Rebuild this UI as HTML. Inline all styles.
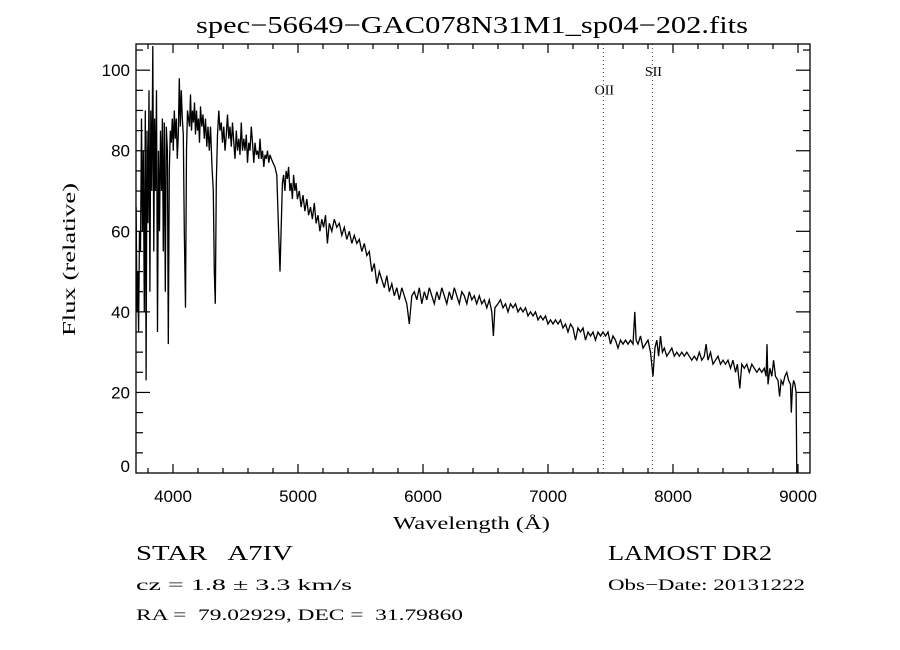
<!DOCTYPE html>
<html><head><meta charset="utf-8"><style>
html,body{margin:0;padding:0;background:#fff;}
svg{display:block;}
text{fill:#000;}
.ser{font-family:"Liberation Serif",serif;}
.san{font-family:"Liberation Sans",sans-serif;}
</style></head><body>
<svg id="chart" width="900" height="650" viewBox="0 0 900 650" xmlns="http://www.w3.org/2000/svg">
<rect width="900" height="650" fill="#fff"/>
<text class="ser" x="196" y="33" font-size="24" textLength="552" lengthAdjust="spacingAndGlyphs">spec−56649−GAC078N31M1_sp04−202.fits</text>
<g id="axes"></g>
<g id="lines"></g>
<polyline id="spec" fill="none" stroke="#000" stroke-width="1.3" stroke-linejoin="miter"/>
<rect x="136" y="44" width="674" height="429" fill="none" stroke="#000" stroke-width="1.3"/>
<text class="ser" x="393" y="529" font-size="18" textLength="157" lengthAdjust="spacingAndGlyphs">Wavelength (Å)</text>
<text class="ser" x="0" y="0" font-size="18" textLength="153" lengthAdjust="spacingAndGlyphs" transform="translate(75,336) rotate(-90)">Flux (relative)</text>
<text class="ser" x="136" y="560" font-size="21" textLength="157" lengthAdjust="spacingAndGlyphs" xml:space="preserve">STAR   A7IV</text>
<text class="ser" x="608" y="560" font-size="21" textLength="164" lengthAdjust="spacingAndGlyphs">LAMOST DR2</text>
<text class="ser" x="136" y="590" font-size="16" textLength="216" lengthAdjust="spacingAndGlyphs">cz = 1.8 ± 3.3 km/s</text>
<text class="ser" x="608" y="590" font-size="16" textLength="197" lengthAdjust="spacingAndGlyphs">Obs−Date: 20131222</text>
<text class="ser" x="136" y="620" font-size="16" textLength="327" lengthAdjust="spacingAndGlyphs" xml:space="preserve">RA =  79.02929, DEC =  31.79860</text>
</svg>
<script>
const wave = [3705,3712,3718,3725,3732,3740,3748,3755,3762,3770,3778,3785,3792,3800,3808,3815,3822,3830,3838,3846,3853,3860,3868,3876,3884,3892,3900,3908,3915,3922,3930,3938,3946,3955,3962,3970,3978,3986,3994,4002,4010,4018,4026,4034,4042,4050,4058,4066,4074,4082,4090,4100,4108,4116,4124,4132,4140,4148,4156,4164,4172,4180,4188,4196,4204,4212,4220,4230,4240,4250,4260,4270,4280,4290,4300,4312,4322,4330,4338,4346,4356,4366,4376,4386,4396,4406,4416,4426,4436,4446,4456,4466,4476,4486,4496,4506,4516,4526,4536,4546,4556,4566,4576,4586,4596,4606,4616,4626,4636,4646,4656,4666,4676,4686,4696,4706,4716,4726,4736,4746,4756,4766,4776,4786,4800,4815,4830,4845,4856,4866,4875,4885,4895,4905,4915,4925,4935,4945,4955,4965,4975,4985,4995,5010,5025,5040,5055,5070,5085,5100,5115,5130,5145,5160,5175,5190,5205,5220,5235,5250,5270,5290,5310,5330,5350,5370,5390,5410,5430,5450,5470,5490,5510,5530,5550,5570,5590,5610,5630,5650,5670,5690,5710,5730,5750,5770,5790,5810,5830,5850,5870,5890,5910,5930,5950,5970,5990,6010,6030,6050,6070,6090,6110,6130,6150,6170,6190,6210,6230,6250,6270,6290,6310,6330,6350,6370,6390,6410,6430,6450,6470,6490,6510,6530,6550,6563,6575,6600,6620,6640,6660,6680,6700,6720,6740,6760,6780,6800,6820,6840,6860,6880,6900,6920,6940,6960,6980,7000,7020,7040,7060,7080,7100,7120,7140,7160,7180,7200,7220,7240,7260,7280,7300,7320,7340,7360,7380,7400,7420,7440,7460,7480,7500,7520,7540,7560,7580,7600,7620,7640,7660,7680,7694,7705,7720,7740,7760,7780,7800,7820,7840,7855,7870,7885,7900,7915,7930,7950,7970,7990,8010,8030,8050,8070,8090,8110,8130,8150,8170,8190,8210,8230,8250,8265,8280,8300,8320,8340,8360,8380,8400,8420,8440,8460,8480,8500,8515,8534,8550,8570,8590,8610,8630,8650,8670,8690,8710,8730,8745,8752,8760,8775,8790,8805,8820,8840,8853,8865,8880,8895,8910,8925,8940,8946,8955,8965,8975,8985,8990];
const flux = [66,40,50,35,60,55,88,60,80,40,90,23,85,62,95,45,90,70,106,55,88,70,95,35,80,60,85,70,88,55,87,45,86,80,32,75,85,82,88,80,90,83,88,78,84,98,86,95,88,84,60,41,80,90,88,86,94,85,90,87,92,84,90,85,88,82,91,86,89,83,88,81,86,80,86,76,70,50,42,72,84,90,85,87,82,86,80,84,89,83,86,81,87,82,78,85,80,83,79,87,80,83,80,84,77,82,80,86,82,77,82,79,80,78,83,78,80,76,79,78,80,77,79,78,77,76,74,60,50,62,72,74,70,75,73,76,70,72,68,74,70,72,68,70,66,69,65,68,64,66,63,67,62,64,60,63,61,64,57,62,60,63,61,62,59,61,58,60,57,59,57,58,55,57,54,55,50,52,47,50,48,46,49,45,47,44,46,43,46,44,42,37,44,45,43,46,42,45,43,46,44,42,45,43,46,44,42,45,43,46,44,42,45,44,42,45,43,44,42,44,42,43,41,43,40,34,41,42,43,41,42,40,42,41,42,40,41,40,41,39,40,39,40,38,39,38,39,37,38,37,38,37,38,36,37,35,37,36,33,36,35,36,33,35,34,35,33,35,34,35,34,35,32,34,33,31,33,32,33,32,33,32,40,33,32,34,31,32,33,30,24,31,33,29,34,30,31,29,30,31,29,30,29,30,29,30,29,28,29,28,30,28,29,32,28,30,27,28,29,27,28,27,28,26,28,25,27,21,27,26,27,25,27,26,25,26,25,26,24,32,22,26,24,28,24,23,19,23,22,24,25,23,22,15,21,23,22,20,0];
const xTicks = [4000,5000,6000,7000,8000,9000];
const yTicks = [0,20,40,60,80,100];
const lineNames = ["OII","SII"];
const lineWaves = [7443,7835];
const lineLabelY = [94,98.5];

const X0=136,X1=810,Y0=473,Y1=44, WMIN=3704, WMAX=9096, FMIN=0, FMAX=106.5;
function xs(w){return X0+(w-WMIN)/(WMAX-WMIN)*(X1-X0);}
function ys(f){return Y0-(f-FMIN)/(FMAX-FMIN)*(Y0-Y1);}
const NS="http://www.w3.org/2000/svg";
const axes=document.getElementById('axes');
function mk(tag,attrs,parent){const e=document.createElementNS(NS,tag);for(const k in attrs)e.setAttribute(k,attrs[k]);parent.appendChild(e);return e;}

for(let w=3800; w<=9000; w+=200){
  const major = w%1000===0;
  const L = major?9:5;
  const x=xs(w);
  const t1=mk('line',{x1:x,x2:x,y1:Y0,y2:Y0-L,stroke:'#000','stroke-width':1.2},axes);
  
  
  const t2=mk('line',{x1:x,x2:x,y1:Y1,y2:Y1+L,stroke:'#000','stroke-width':1.2},axes);
  
  
}
xTicks.forEach(v=>{
  const t=mk('text',{x:xs(v),y:Y0+29,'text-anchor':'middle','font-size':17,class:'san','fill':'#222'},axes);
  t.textContent=v;
  
  
});
for(let f=5; f<=105; f+=5){
  const major=f%20===0;
  const L=major?14:7;
  const y=ys(f);
  const t1=mk('line',{x1:X0,x2:X0+L,y1:y,y2:y,stroke:'#000','stroke-width':1.2},axes);
  
  
  const t2=mk('line',{x1:X1,x2:X1-L,y1:y,y2:y,stroke:'#000','stroke-width':1.2},axes);
  
  
}
yTicks.forEach(v=>{
  const y = v===0 ? ys(v)-1 : ys(v)+6;
  const t=mk('text',{x:X0-6,y:y,'text-anchor':'end','font-size':17,class:'san','fill':'#222'},axes);
  t.textContent=v;
  
  
});
const lg=document.getElementById('lines');
lineWaves.forEach((w,i)=>{
  const l=mk('line',{x1:xs(w),x2:xs(w),y1:Y1,y2:Y0,stroke:'#6a3030','stroke-width':1,'stroke-dasharray':'1 3'},lg);
  
  
  const t=mk('text',{x:xs(w)+1,y:ys(lineLabelY[i]),'text-anchor':'middle','font-size':14,class:'ser'},lg);
  t.textContent=lineNames[i];
  
  
});
const pts=wave.map((w,i)=>xs(w).toFixed(1)+','+Math.max(Y1,ys(flux[i])).toFixed(1)).join(' ');
document.getElementById('spec').setAttribute('points',pts);
</script>
</body></html>
